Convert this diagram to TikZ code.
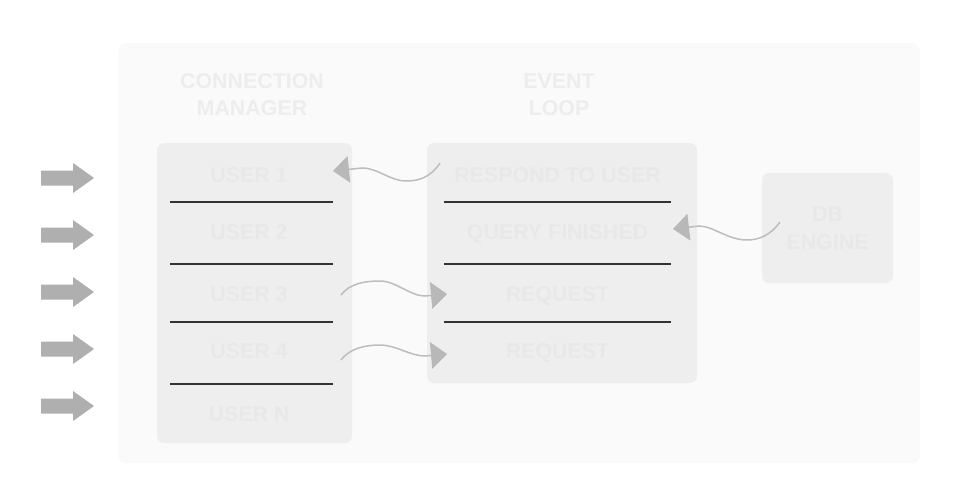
\documentclass[tikz,border=0pt]{standalone}
\usepackage{fontspec}
\setmainfont{Liberation Sans}
\usetikzlibrary{arrows.meta}
\definecolor{outerc}{HTML}{FAFAFA}
\definecolor{boxc}{HTML}{EEEEEE}
\definecolor{hdrc}{HTML}{EDEDED}
\definecolor{itemc}{HTML}{E8E8E8}
\definecolor{linec}{HTML}{333333}
\definecolor{wavec}{HTML}{BDBDBD}
\definecolor{headc}{HTML}{B8B8B8}
\definecolor{blockc}{HTML}{AFAFAF}
\tikzset{
  panel/.style={fill=boxc, draw=none, rounded corners=7pt, inner sep=0pt},
  hdr/.style={font=\fontsize{21.4}{27}\selectfont\bfseries, text=hdrc, inner sep=0pt, align=center},
  item/.style={font=\fontsize{21.4}{26}\selectfont\bfseries, text=itemc, inner sep=0pt, text height=15.3pt, text depth=0pt},
  sepline/.style={draw=linec, line width=2pt},
  wave/.style={draw=wavec, line width=1.5pt, -{Triangle[length=16pt,width=27pt,line width=0pt,color=headc]}},
  blockarrow/.style={fill=blockc, draw=none}
}
\begin{document}
\begin{tikzpicture}[x=1pt,y=-1pt]
\useasboundingbox (0,0) rectangle (960,500);
\fill[white] (0,0) rectangle (960,500);
% outer background
\fill[outerc, rounded corners=8pt] (118,43) rectangle (920,463);
% headers
\node[hdr] (cmh) at (252,95) {CONNECTION\\MANAGER};
\node[hdr] (elh) at (559,95) {EVENT\\LOOP};
% panels
\node[panel, minimum width=195pt, minimum height=300pt] (cm) at (254.5,293) {};
\node[panel, minimum width=270pt, minimum height=240pt] (el) at (562,263) {};
\node[panel, minimum width=131pt, minimum height=110pt] (db) at (827.5,228) {};
% db text
\node[hdr, text=itemc, font=\fontsize{21.4}{27.5}\selectfont\bfseries] (dbt) at (827.5,228) {DB\\ENGINE};
% connection manager items
\node[item] (u1) at (249,175) {USER 1};
\node[item] (u2) at (249,232) {USER 2};
\node[item] (u3) at (249,294) {USER 3};
\node[item] (u4) at (249,351) {USER 4};
\node[item] (un) at (249,414) {USER N};
\foreach \y in {202,264,322,384} \draw[sepline] (170,\y) -- (333,\y);
% event loop items
\node[item] (r1) at (557.5,175) {RESPOND TO USER};
\node[item] (r2) at (557.5,232) {QUERY FINISHED};
\node[item] (r3) at (557.5,294) {REQUEST};
\node[item] (r4) at (557.5,351) {REQUEST};
\foreach \y in {202,264,322} \draw[sepline] (444,\y) -- (671,\y);
% incoming block arrows
\foreach \y in {178,235,292,349,406}
  \fill[blockarrow] (41,\y-7.5) -- (73,\y-7.5) -- (73,\y-15) -- (94,\y) -- (73,\y+15) -- (73,\y+7.5) -- (41,\y+7.5) -- cycle;
% wave connectors
\coordinate (w1s) at (440,163); \coordinate (w1e) at (333,171);
\coordinate (w2s) at (780,222); \coordinate (w2e) at (673,229);
\coordinate (w3s) at (341,295); \coordinate (w3e) at (447,294);
\coordinate (w4s) at (341,360); \coordinate (w4e) at (447,354);
\draw[wave] (w1s) .. controls (430,178) and (418,181) .. (406,181) .. controls (390,181) and (378,168) .. (362,168) -- (w1e);
\draw[wave] (w2s) .. controls (770,236) and (758,240) .. (747,240) .. controls (728,240) and (713,226) .. (699,226) -- (w2e);
\draw[wave] (w3s) .. controls (350,283) and (366,281) .. (380,281) .. controls (396,281) and (410,296) .. (425,296) -- (w3e);
\draw[wave] (w4s) .. controls (350,348) and (366,345) .. (380,345) .. controls (396,345) and (410,356) .. (425,356) -- (w4e);
\end{tikzpicture}
\end{document}
